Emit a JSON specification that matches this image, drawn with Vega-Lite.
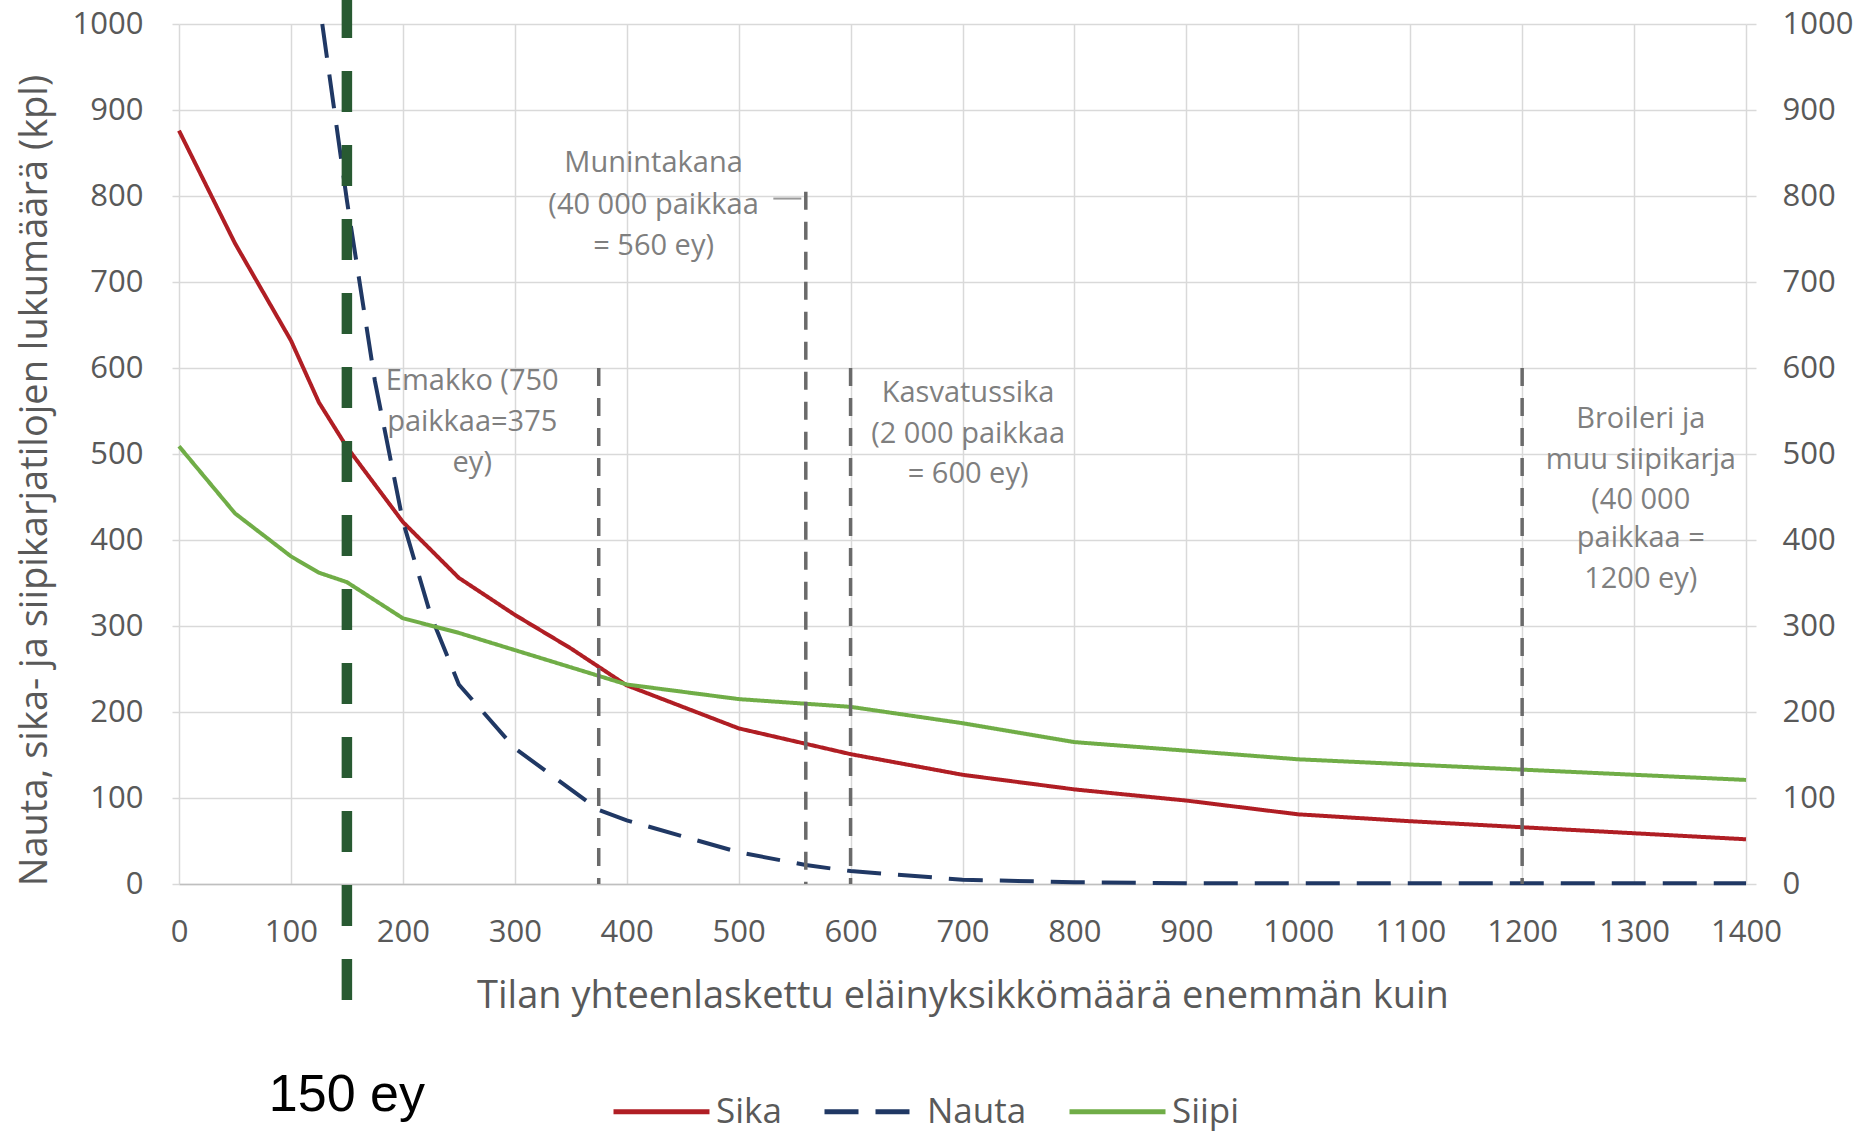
{
  "$schema": "https://vega.github.io/schema/vega-lite/v6.json",
  "width": 1567,
  "height": 860,
  "autosize": {"type": "none"},
  "padding": {"left": 179, "top": 24, "right": 114, "bottom": 250},
  "background": "white",
  "config": {
    "view": {"stroke": null},
    "font": "Open Sans",
    "axis": {
      "labelFont": "Open Sans",
      "titleFont": "Open Sans",
      "labelColor": "#595959",
      "titleColor": "#595959",
      "titleFontWeight": "normal",
      "gridColor": "#d9d9d9",
      "gridWidth": 1.5,
      "tickColor": "#d9d9d9",
      "tickWidth": 1.5,
      "domainColor": "#bfbfbf",
      "labelOverlap": false,
      "labelFlush": false,
      "format": "d"
    },
    "legend": {"labelFont": "Open Sans"}
  },
  "datasets": {
    "series": [
      {"series": "Sika", "x": 0, "y": 876},
      {"series": "Sika", "x": 50, "y": 745},
      {"series": "Sika", "x": 100, "y": 632},
      {"series": "Sika", "x": 125, "y": 560},
      {"series": "Sika", "x": 150, "y": 508},
      {"series": "Sika", "x": 200, "y": 421},
      {"series": "Sika", "x": 250, "y": 356},
      {"series": "Sika", "x": 300, "y": 313},
      {"series": "Sika", "x": 350, "y": 274},
      {"series": "Sika", "x": 400, "y": 231},
      {"series": "Sika", "x": 500, "y": 181},
      {"series": "Sika", "x": 600, "y": 151},
      {"series": "Sika", "x": 700, "y": 127},
      {"series": "Sika", "x": 800, "y": 110},
      {"series": "Sika", "x": 900, "y": 97},
      {"series": "Sika", "x": 1000, "y": 81},
      {"series": "Sika", "x": 1100, "y": 73},
      {"series": "Sika", "x": 1200, "y": 66},
      {"series": "Sika", "x": 1300, "y": 59},
      {"series": "Sika", "x": 1400, "y": 52},
      {"series": "Nauta", "x": 128, "y": 1000},
      {"series": "Nauta", "x": 150, "y": 795},
      {"series": "Nauta", "x": 175, "y": 585},
      {"series": "Nauta", "x": 200, "y": 422},
      {"series": "Nauta", "x": 225, "y": 312},
      {"series": "Nauta", "x": 250, "y": 232},
      {"series": "Nauta", "x": 300, "y": 158},
      {"series": "Nauta", "x": 350, "y": 110},
      {"series": "Nauta", "x": 375, "y": 86},
      {"series": "Nauta", "x": 400, "y": 74},
      {"series": "Nauta", "x": 500, "y": 37},
      {"series": "Nauta", "x": 560, "y": 22},
      {"series": "Nauta", "x": 600, "y": 15},
      {"series": "Nauta", "x": 700, "y": 5},
      {"series": "Nauta", "x": 800, "y": 2},
      {"series": "Nauta", "x": 900, "y": 1},
      {"series": "Nauta", "x": 1000, "y": 1},
      {"series": "Nauta", "x": 1100, "y": 1},
      {"series": "Nauta", "x": 1200, "y": 1},
      {"series": "Nauta", "x": 1300, "y": 1},
      {"series": "Nauta", "x": 1400, "y": 1},
      {"series": "Siipi", "x": 0, "y": 509},
      {"series": "Siipi", "x": 50, "y": 431},
      {"series": "Siipi", "x": 100, "y": 381},
      {"series": "Siipi", "x": 125, "y": 362},
      {"series": "Siipi", "x": 150, "y": 351},
      {"series": "Siipi", "x": 200, "y": 309},
      {"series": "Siipi", "x": 250, "y": 292},
      {"series": "Siipi", "x": 300, "y": 272},
      {"series": "Siipi", "x": 350, "y": 252},
      {"series": "Siipi", "x": 400, "y": 232},
      {"series": "Siipi", "x": 500, "y": 215},
      {"series": "Siipi", "x": 600, "y": 206},
      {"series": "Siipi", "x": 700, "y": 187},
      {"series": "Siipi", "x": 800, "y": 165},
      {"series": "Siipi", "x": 900, "y": 155},
      {"series": "Siipi", "x": 1000, "y": 145},
      {"series": "Siipi", "x": 1100, "y": 139},
      {"series": "Siipi", "x": 1200, "y": 133},
      {"series": "Siipi", "x": 1300, "y": 127},
      {"series": "Siipi", "x": 1400, "y": 121}
    ],
    "markers": [
      {"x": 375, "y": 600, "y2": 0},
      {"x": 560, "y": 805, "y2": 0},
      {"x": 600, "y": 600, "y2": 0},
      {"x": 1200, "y": 600, "y2": 0}
    ],
    "leader": [{"x": 531, "x2": 556, "y": 797}],
    "notes": [
      {"x": 262, "y": 585, "text": "Emakko (750"},
      {"x": 262, "y": 537, "text": "paikkaa=375"},
      {"x": 262, "y": 489, "text": "ey)"},
      {"x": 424, "y": 838, "text": "Munintakana"},
      {"x": 424, "y": 790, "text": "(40 000 paikkaa"},
      {"x": 424, "y": 742, "text": "= 560 ey)"},
      {"x": 705, "y": 571, "text": "Kasvatussika"},
      {"x": 705, "y": 523, "text": "(2 000 paikkaa"},
      {"x": 705, "y": 477, "text": "= 600 ey)"},
      {"x": 1306, "y": 541, "text": "Broileri ja"},
      {"x": 1306, "y": 493, "text": "muu siipikarja"},
      {"x": 1306, "y": 447, "text": "(40 000"},
      {"x": 1306, "y": 402, "text": "paikkaa ="},
      {"x": 1306, "y": 355, "text": "1200 ey)"}
    ],
    "threshold": [{"x": 150, "y": -135, "y2": 1028}],
    "thresholdLabel": [{"x": 150, "y": -264, "label": "150 ey"}]
  },
  "layer": [
    {
      "data": {"name": "series"},
      "mark": {"type": "line", "strokeWidth": 4, "strokeCap": "butt"},
      "encoding": {
        "x": {
          "field": "x",
          "type": "quantitative",
          "scale": {"domain": [0, 1400], "nice": false, "zero": false},
          "axis": {
            "values": [0, 100, 200, 300, 400, 500, 600, 700, 800, 900, 1000, 1100, 1200, 1300, 1400],
            "grid": true,
            "ticks": false,
            "labelFontSize": 31,
            "labelPadding": 33,
            "domainWidth": 1.5,
            "title": "Tilan yhteenlaskettu eläinyksikkömäärä enemmän kuin",
            "titleFontSize": 38,
            "titlePadding": 30
          }
        },
        "y": {
          "field": "y",
          "type": "quantitative",
          "scale": {"domain": [0, 1000], "nice": false},
          "axis": {
            "orient": "left",
            "values": [0, 100, 200, 300, 400, 500, 600, 700, 800, 900, 1000],
            "grid": true,
            "domain": false,
            "tickSize": 7,
            "labelFontSize": 31,
            "labelPadding": 29,
            "title": "Nauta, sika- ja siipikarjatilojen lukumäärä (kpl)",
            "titleFontSize": 38,
            "titlePadding": 18,
            "titleY": 456
          }
        },
        "color": {
          "field": "series",
          "type": "nominal",
          "scale": {"domain": ["Sika", "Nauta", "Siipi"], "range": ["#b01e24", "#203864", "#70ad47"]},
          "legend": {
            "title": null,
            "orient": "none",
            "legendX": 432,
            "legendY": 1037,
            "direction": "horizontal",
            "symbolType": "stroke",
            "symbolSize": 9216,
            "symbolStrokeWidth": 5,
            "labelFontSize": 35,
            "labelColor": "#595959",
            "columnPadding": 32,
            "labelOffset": 4,
            "padding": 0
          }
        },
        "strokeDash": {
          "field": "series",
          "type": "nominal",
          "scale": {"domain": ["Sika", "Nauta", "Siipi"], "range": [[1, 0], [34, 17], [1, 0]]},
          "legend": {
            "title": null,
            "orient": "none",
            "legendX": 432,
            "legendY": 1037,
            "direction": "horizontal",
            "symbolType": "stroke",
            "symbolSize": 9216,
            "symbolStrokeWidth": 5,
            "labelFontSize": 35,
            "labelColor": "#595959",
            "columnPadding": 32,
            "labelOffset": 4,
            "padding": 0
          }
        }
      }
    },
    {
      "data": {"name": "markers"},
      "mark": {"type": "rule", "color": "#6a6a6a", "strokeWidth": 3.5, "strokeDash": [18, 12]},
      "encoding": {
        "x": {"field": "x", "type": "quantitative"},
        "y": {
          "field": "y",
          "type": "quantitative",
          "axis": {
            "orient": "right",
            "values": [0, 100, 200, 300, 400, 500, 600, 700, 800, 900, 1000],
            "grid": false,
            "domain": false,
            "tickSize": 10,
            "labelFontSize": 31,
            "labelPadding": 26,
            "title": null
          }
        },
        "y2": {"field": "y2"}
      }
    },
    {
      "data": {"name": "leader"},
      "mark": {"type": "rule", "color": "#9a9a9a", "strokeWidth": 2},
      "encoding": {
        "x": {"field": "x", "type": "quantitative"},
        "x2": {"field": "x2"},
        "y": {"field": "y", "type": "quantitative", "axis": null}
      }
    },
    {
      "data": {"name": "notes"},
      "mark": {"type": "text", "fontSize": 29, "color": "#7f7f7f", "align": "center", "baseline": "middle", "font": "Open Sans"},
      "encoding": {
        "x": {"field": "x", "type": "quantitative"},
        "y": {"field": "y", "type": "quantitative", "axis": null},
        "text": {"field": "text"}
      }
    },
    {
      "data": {"name": "threshold"},
      "mark": {"type": "rule", "color": "#285a32", "strokeWidth": 10.5, "strokeDash": [41, 33], "strokeCap": "butt"},
      "encoding": {
        "x": {"field": "x", "type": "quantitative"},
        "y": {"field": "y", "type": "quantitative", "axis": null},
        "y2": {"field": "y2"}
      }
    },
    {
      "data": {"name": "thresholdLabel"},
      "mark": {"type": "text", "fontSize": 52, "color": "#000000", "align": "center", "baseline": "alphabetic", "font": "Liberation Sans"},
      "encoding": {
        "x": {"field": "x", "type": "quantitative"},
        "y": {"field": "y", "type": "quantitative", "axis": null},
        "text": {"field": "label"}
      }
    }
  ],
  "resolve": {"axis": {"y": "independent"}}
}
